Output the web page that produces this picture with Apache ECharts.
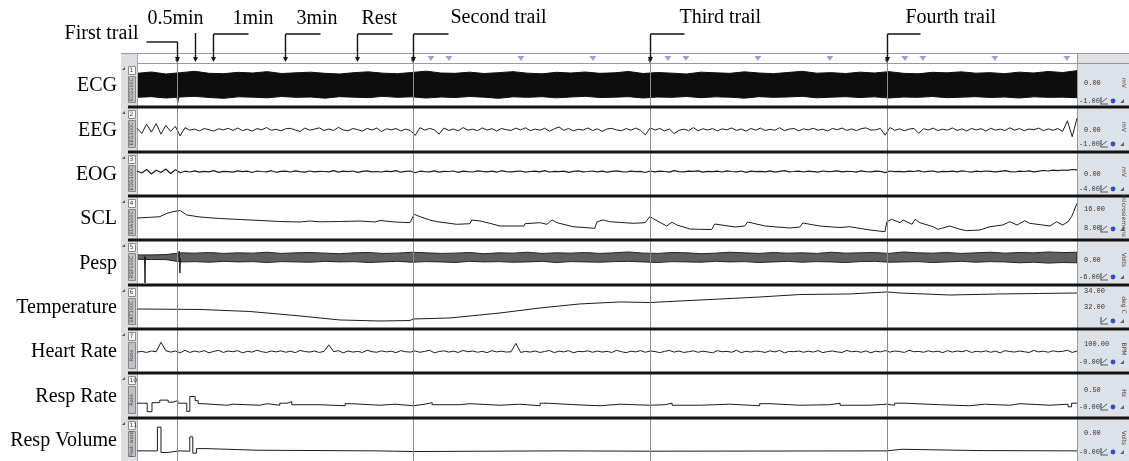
<!DOCTYPE html>
<html>
<head>
<meta charset="utf-8">
<script src="https://cdn.jsdelivr.net/npm/echarts@6/dist/echarts.min.js"></script>
<style>
  html, body { margin: 0; padding: 0; background: #fff; }
  #main { width: 1129px; height: 461px; }
</style>
</head>
<body>
<div id="main"></div>
<script>
// ---- Recording data (time in seconds) ----
const DURATION = 1567;

const channelNames   = ['ECG', 'EEG', 'EOG', 'SCL', 'Pesp', 'Temperature', 'Heart Rate', 'Resp Rate', 'Resp Volume'];
const channelNumbers = ['1', '2', '3', '4', '5', '6', '7', '10', '11'];
const moduleNames    = ['ECG100C', 'EEG100C', 'EOG100C', 'EDA100C', 'RSP100C', 'SKT100C', 'Rate', 'Rate', 'Peak ward'];
const unitNames      = ['mV', 'mV', 'mV', 'microsiemens', 'Volts', 'deg C', 'BPM', 'Hz', 'Volts'];
const scaleTopLabels    = ['0.00', '0.00', '0.00', '16.00', '0.00', '34.00', '100.00', '0.50', '0.00'];
const scaleBottomLabels = ['-1.00', '-1.00', '-4.00', '8.00', '-6.00', '32.00', '-0.00', '-0.00', '-0.00'];
const axisRanges = [[-1.2, 1.2], [-200, 200], [-200, 200], [3.8, 20.6], [-8, 6], [29.5, 34.5], [-40, 180], [0, 0.8], [-0.2, 1.0]];

// trial onsets and event offsets within a trial (s)
const trialStarts  = [67, 460, 855, 1250];
const trialLabels  = ['First trail', 'Second trail', 'Third trail', 'Fourth trail'];
const eventOffsets = [30, 60, 180, 300];
const eventLabels  = ['0.5min', '1min', '3min', 'Rest'];

// ECG envelope (mV), evenly spaced over the recording
const ecgUpper = [0.70,0.78,0.66,0.74,0.82,0.70,0.68,0.76,0.72,0.80,0.69,0.73,0.77,0.70,0.66,0.74,0.79,0.71,0.68,0.75,0.83,0.72,0.70,0.77,0.69,0.74,0.80,0.71,0.67,0.76,0.72,0.78,0.70,0.73,0.81,0.69,0.75,0.71,0.66,0.77,0.73,0.70,0.79,0.72,0.68,0.75,0.82,0.71,0.74,0.69,0.77,0.72,0.80,0.70,0.67,0.76,0.73,0.79,0.71,0.74,0.68,0.77,0.72,0.81,0.75,0.86];
const ecgLower = [-0.74,-0.70,-0.78,-0.72,-0.68,-0.75,-0.80,-0.71,-0.73,-0.77,-0.69,-0.74,-0.72,-0.79,-0.70,-0.73,-0.76,-0.68,-0.74,-0.71,-0.78,-0.72,-0.75,-0.69,-0.73,-0.80,-0.71,-0.74,-0.70,-0.77,-0.72,-0.68,-0.75,-0.73,-0.70,-0.78,-0.72,-0.74,-0.69,-0.76,-0.71,-0.73,-0.79,-0.70,-0.74,-0.72,-0.68,-0.77,-0.73,-0.70,-0.75,-0.71,-0.78,-0.72,-0.74,-0.69,-0.76,-0.73,-0.70,-0.75,-0.72,-0.78,-0.71,-0.74,-0.73,-0.76];
const ecgArtifact = [[66, -0.6], [68, -1.08], [70, -0.6]];

// EEG (µV), evenly spaced
const eeg = [
  12,-38,52,-25,58,-45,40,-18,30,-62,
  18,-6,4,-14,9,-2,-16,7,-4,11,
  -9,14,-11,3,-17,9,-3,19,-8,2,
  -13,7,11,-5,-19,14,-7,4,16,-10,
  5,-9,21,-4,-13,9,-1,-16,11,-5,
  14,-20,7,-3,9,-14,4,-11,-58,18,
  -7,11,-4,-44,14,-9,5,-13,19,-7,
  3,-12,16,-6,8,-15,10,-2,-9,13,
  -5,17,-11,4,-7,12,-16,6,25,-8,
  10,-13,3,-6,15,-10,7,-18,5,11,
  -4,-12,9,-7,14,-9,-52,16,-6,10,
  -14,5,-40,-8,3,-11,18,-12,7,-5,
  9,-13,6,-3,15,-9,4,-16,10,-6,
  13,-10,2,-8,17,-12,5,9,-14,6,
  -4,12,-7,3,-15,10,-2,14,-9,5,
  -11,8,16,-6,-3,10,-55,19,-8,6,
  -12,4,11,-38,7,-5,13,-10,3,-7,
  15,-9,6,-13,10,-4,8,-15,12,-6,
  4,-10,17,-7,9,-12,5,-3,14,-11,
  6,-8,10,-20,85,-70,110
];

// EOG (µV), evenly spaced
const eog = [
  30,10,45,0,38,15,50,5,42,12,
  28,20,32,18,26,22,34,16,27,24,
  19,31,23,28,15,30,25,21,33,17,
  26,29,20,32,24,18,30,22,27,25,
  21,33,19,28,24,30,16,27,31,22,
  25,20,29,23,34,18,26,30,12,28,
  24,21,32,19,27,25,30,17,28,23,
  20,31,26,22,29,18,33,24,21,27,
  30,19,25,28,22,34,20,26,23,29,
  17,27,31,21,25,30,22,28,19,26,
  32,23,20,29,24,27,15,30,22,28,
  25,19,33,24,21,28,26,31,18,27,
  23,29,20,32,25,22,30,17,28,24,
  26,21,31,19,27,34,22,25,29,20,
  28,24,18,30,23,26,32,21,27,25,
  19,31,24,22,29,26,14,30,23,27,
  21,28,25,33,20,26,30,18,27,24,
  29,22,32,25,19,28,23,30,26,21,
  27,33,24,20,29,25,31,22,28,35,
  30,38,33,40,36,45,42
];

// Skin conductance level (µS): [time, value]
const scl = [
  [0,12.2],[22,12.49],[38,12.75],[50,14.17],[60,14.85],[72,15.35],[75,14.72],[83,13.46],[105,12.62],
  [138,11.99],[172,11.57],[205,11.15],[238,10.73],[272,10.52],[288,10.94],[305,10.6],[338,10.73],
  [372,10.94],[397,10.52],[405,11.15],[430,10.52],[455,10.23],[462,13.75],[472,12.75],[488,11.36],
  [500,10.65],[533,9.56],[535,10.4],[555,9.81],[558,11.36],[572,10.94],[588,9.98],[605,8.84],
  [645,8.84],[647,9.81],[672,10.23],[683,9.56],[692,11.36],[700,10.23],[727,8.55],[763,7.87],
  [767,10.65],[777,11.36],[788,10.65],[827,9.97],[847,10.23],[855,12.83],[860,11.99],[883,8.84],
  [892,10.4],[900,9.26],[922,7.58],[938,7.45],[958,7.37],[963,9.68],[997,8.42],[1013,8.84],
  [1018,10.52],[1047,8.84],[1088,8.0],[1105,8.42],[1110,10.1],[1138,8.84],[1172,8.21],[1188,8.55],
  [1222,7.16],[1247,6.45],[1250,10.65],[1258,11.66],[1272,10.23],[1277,11.36],[1292,9.56],
  [1297,11.66],[1305,10.23],[1327,8.55],[1335,7.45],[1355,8.84],[1372,7.45],[1383,6.87],
  [1405,7.16],[1422,8.55],[1443,9.26],[1455,10.65],[1467,9.26],[1480,11.07],[1488,9.98],
  [1522,8.84],[1533,10.65],[1543,9.26],[1552,10.65],[1558,12.75],[1567,18.37]
];

// Respiration (V) envelope, evenly spaced
const pespUpper = [1.6,1.6,1.7,2.3,2.2,2.4,2.1,2.3,2.2,2.5,2.1,2.3,2.4,2.2,2.0,2.3,2.4,2.1,2.2,2.5,2.3,2.1,2.2,2.4,2.0,2.3,2.2,2.5,2.1,2.3,2.2,2.4,2.1,2.3,2.6,2.2,2.1,2.4,2.3,2.0,2.2,2.5,2.3,2.1,2.4,2.2,2.3,2.1,2.5,2.2,2.3,2.4,2.1,2.6,2.3,2.2,2.4,2.1,2.3,2.5,2.2,2.4,2.3,2.6,2.4,2.5];
const pespLower = [0.1,0.0,0.0,-0.8,-0.7,-0.9,-0.6,-0.8,-0.7,-1.0,-0.7,-0.8,-0.9,-0.6,-0.8,-0.7,-1.0,-0.8,-0.6,-0.9,-0.7,-0.8,-1.0,-0.6,-0.8,-0.7,-0.9,-0.8,-0.6,-1.0,-0.7,-0.8,-0.9,-0.7,-0.6,-0.8,-1.0,-0.7,-0.8,-0.9,-0.6,-0.8,-0.7,-1.0,-0.8,-0.6,-0.9,-0.7,-0.8,-1.0,-0.7,-0.6,-0.9,-0.8,-0.7,-1.0,-0.8,-0.6,-0.9,-0.7,-0.8,-1.1,-0.9,-1.2,-1.0,-1.1];
const pespArtifactA = [[12.5,1.0],[13.3,-8.0],[14.1,1.0]];
const pespArtifactB = [[69.5,1.0],[70.5,2.9],[71.5,-4.6],[72.5,0.5]];

// Skin temperature (deg C): [time, value]
const temperature = [
  [0,31.75],[105,31.69],[188,31.44],[272,30.88],[338,30.38],[405,30.25],[455,30.31],[460,30.5],
  [522,30.63],[605,31.25],[672,31.88],[738,32.38],[805,32.63],[855,32.56],[905,32.75],[972,33.0],
  [1038,33.25],[1105,33.56],[1188,33.63],[1250,33.88],[1272,33.75],[1355,33.5],[1438,33.63],
  [1505,33.69],[1567,33.75]
];

// Heart rate (BPM), evenly spaced
const heartRate = [
  64,68,62,70,66,118,72,64,70,60,
  74,62,70,64,72,60,68,74,62,70,
  66,72,60,68,64,74,66,62,70,65,
  71,63,69,61,73,67,64,70,62,68,
  104,66,72,60,70,64,68,62,74,66,
  63,71,65,69,61,72,66,64,70,63,
  68,74,60,67,71,64,69,62,73,66,
  70,63,68,61,72,65,69,64,66,112,
  62,68,64,70,62,67,73,61,69,65,
  72,60,68,66,71,63,70,64,68,62,
  74,66,61,69,65,72,63,70,67,61,
  68,73,64,70,62,66,71,63,69,65,
  60,72,66,68,63,74,61,69,64,70,
  67,62,71,65,73,60,68,66,70,63,
  69,64,72,61,67,70,65,62,73,66,
  68,63,71,60,69,65,72,64,70,67,
  62,74,66,68,63,71,65,69,61,72,
  64,70,66,73,62,68,65,71,63,69,
  60,72,67,64,70,66,62,73,65,69,
  63,71,66,68,74,62,70
];

// Respiration rate (Hz): [time, value held until next time]
const respRate = [
  [0,0.25],[17,0.085],[25,0.26],[38,0.31],[52,0.27],[60,0.30],[68,0.25],[83,0.09],[88,0.38],
  [97,0.30],[102,0.24],[110,0.21],[150,0.23],[160,0.21],[205,0.24],[217,0.21],[238,0.25],
  [250,0.28],[258,0.22],[305,0.20],[347,0.24],[358,0.21],[405,0.23],[430,0.20],[460,0.23],
  [480,0.26],[492,0.22],[538,0.24],[555,0.21],[605,0.23],[638,0.20],[672,0.25],[685,0.22],
  [730,0.20],[772,0.23],[805,0.21],[855,0.22],[880,0.25],[892,0.21],[938,0.23],[988,0.20],
  [1038,0.24],[1055,0.21],[1105,0.22],[1155,0.25],[1172,0.21],[1222,0.23],[1250,0.21],
  [1263,0.25],[1280,0.22],[1338,0.20],[1388,0.23],[1413,0.21],[1455,0.24],[1472,0.21],
  [1522,0.23],[1552,0.18],[1558,0.25],[1567,0.25]
];

// Respiration volume (V): [time, value held until next time]
const respVolume = [
  [0,0.05],[34,0.78],[40,0.00],[50,0.05],[70,0.04],[88,0.48],[93,-0.02],[99,0.12],[115,0.07],
  [200,0.05],[400,0.03],[460,0.05],[700,0.04],[855,0.05],[1250,0.10],[1275,0.06],[1400,0.05],[1567,0.05]
];

// ---- Layout ----
const W = 1129, H = 461;
const PLOT_L = 137, PLOT_R = 1077;
const rowTops = [63, 107, 152, 196, 240, 285, 329, 373, 418];
const rowBottom = i => (i < rowTops.length - 1 ? rowTops[i + 1] : H);
// vertical offsets of the scale readouts inside each row: [top label, bottom label, icons]
const readoutOffsets = [[20,38,38],[23,37,37],[22,37,37],[13,32,33],[20,37,37],[6,22,36],[15,33,33],[17,34,34],[15,34,34]];

const TRACE = '#1c1c1c';
const SERIF = '"Liberation Serif", "Times New Roman", serif';
const LABEL_FONT = '20px ' + SERIF;

function evenlySpaced(values) {
  const step = DURATION / (values.length - 1);
  return values.map((v, i) => [i * step, v]);
}

const grids = [], xAxes = [], yAxes = [], series = [];
rowTops.forEach((top, i) => {
  grids.push({ left: PLOT_L, right: W - PLOT_R, top: top + 2, height: rowBottom(i) - top - 4 });
  xAxes.push({ type: 'value', gridIndex: i, min: 0, max: DURATION, show: false });
  yAxes.push({ type: 'value', gridIndex: i, min: axisRanges[i][0], max: axisRanges[i][1], show: false });
});
// event marker bar
grids.push({ left: PLOT_L, right: W - PLOT_R, top: 54, height: 9 });
xAxes.push({ type: 'value', gridIndex: 9, min: 0, max: DURATION, show: false });
yAxes.push({ type: 'value', gridIndex: 9, min: 0, max: 1, show: false });

function line(idx, data, extra) {
  return Object.assign({
    type: 'line', xAxisIndex: idx, yAxisIndex: idx, data: data,
    symbol: 'none', silent: true, animation: false,
    lineStyle: { color: TRACE, width: 1 }
  }, extra || {});
}

// min/max envelope of a dense trace, filled between its lower and upper edges
function band(idx, lower, upper, fill, edge) {
  const step = DURATION / (lower.length - 1);
  const rows = lower.map((lo, i) => [i * step, lo, upper[i]]);
  return {
    type: 'custom', xAxisIndex: idx, yAxisIndex: idx, silent: true, animation: false, clip: true,
    data: rows, encode: { x: 0, y: [1, 2] },
    renderItem: function (params, api) {
      if (params.dataIndex !== 0) return null;
      const top = rows.map(r => api.coord([r[0], r[2]]));
      const bottom = rows.slice().reverse().map(r => api.coord([r[0], r[1]]));
      return { type: 'polygon', shape: { points: top.concat(bottom) },
        style: { fill: fill, stroke: edge, lineWidth: 1 } };
    }
  };
}

series.push(band(0, ecgLower, ecgUpper, '#0d0d0d', '#0d0d0d'));
series.push(line(0, ecgArtifact));
series.push(line(1, evenlySpaced(eeg)));
series.push(line(2, evenlySpaced(eog), { lineStyle: { color: TRACE, width: 1.2 } }));
series.push(line(3, scl));
series.push(band(4, pespLower, pespUpper, '#5f5f5f', '#222222'));
series.push(line(4, pespArtifactA));
series.push(line(4, pespArtifactB));
series.push(line(5, temperature));
series.push(line(6, evenlySpaced(heartRate)));
series.push(line(7, respRate, { step: 'end' }));
series.push(line(8, respVolume, { step: 'end' }));

// marker bar: trial onset ticks and event triangles for the later trials
series.push({
  type: 'scatter', xAxisIndex: 9, yAxisIndex: 9, silent: true, animation: false,
  data: trialStarts.map(t => [t, 0.35]), symbol: 'diamond', symbolSize: [4, 7],
  itemStyle: { color: '#3a3a3a' }
});
const laterEvents = [];
trialStarts.slice(1).forEach(t => eventOffsets.forEach(o => laterEvents.push([t + o, 0.5])));
series.push({
  type: 'scatter', xAxisIndex: 9, yAxisIndex: 9, silent: true, animation: false,
  data: laterEvents, symbol: 'triangle', symbolRotate: 180, symbolSize: [7, 5],
  itemStyle: { color: '#8486d2' }
});

const chart = echarts.init(document.getElementById('main'), null, { renderer: 'canvas', width: W, height: H });
chart.setOption({ animation: false, backgroundColor: '#ffffff', grid: grids, xAxis: xAxes, yAxis: yAxes, series: series });

// ---- Frame, panels and annotations placed from the time axis ----
const px = t => chart.convertToPixel({ xAxisIndex: 9 }, t);
const g = [];

// left channel strip and right scale panel
g.push({ type: 'rect', z: 1, shape: { x: 121, y: 53, width: PLOT_L - 121, height: H - 53 }, style: { fill: '#dcdfe2' } });
g.push({ type: 'rect', z: 1, shape: { x: PLOT_R, y: 53, width: W - PLOT_R, height: H - 53 }, style: { fill: '#dde2e6' } });
g.push({ type: 'line', z: 3, shape: { x1: 121, y1: 53.5, x2: W, y2: 53.5 }, style: { stroke: '#9a9a9a', lineWidth: 1 } });
g.push({ type: 'line', z: 3, shape: { x1: PLOT_L, y1: 63.5, x2: W, y2: 63.5 }, style: { stroke: '#9a9a9a', lineWidth: 1 } });
g.push({ type: 'line', z: 3, shape: { x1: PLOT_L + 0.5, y1: 53, x2: PLOT_L + 0.5, y2: H }, style: { stroke: '#a8a8a8', lineWidth: 1 } });
g.push({ type: 'line', z: 3, shape: { x1: PLOT_R + 0.5, y1: 53, x2: PLOT_R + 0.5, y2: H }, style: { stroke: '#9a9a9a', lineWidth: 1 } });

// trial onset lines through every channel
trialStarts.forEach(t => {
  const x = Math.round(px(t)) + 0.5;
  g.push({ type: 'line', z: 55, shape: { x1: x, y1: 54, x2: x, y2: H }, style: { stroke: '#8c8c8c', lineWidth: 1 } });
});

// thick row separators
rowTops.slice(1).forEach(y => {
  g.push({ type: 'rect', z: 60, shape: { x: 128, y: y - 1.5, width: W - 128, height: 3 }, style: { fill: '#141414' } });
});

rowTops.forEach((top, i) => {
  const bottom = rowBottom(i);
  const mid = (top + bottom) / 2;
  // channel name
  g.push({ type: 'text', z: 70, style: { text: channelNames[i], x: 117, y: mid + 1, align: 'right', verticalAlign: 'middle',
    font: LABEL_FONT, fill: '#000' } });
  // small handle mark
  g.push({ type: 'polygon', z: 70, shape: { points: [[122, top + 7], [125, top + 4], [125, top + 7]] }, style: { fill: '#555' } });
  // channel number box
  g.push({ type: 'rect', z: 70, shape: { x: 128.5, y: top + 3.5, width: 7, height: 8 }, style: { fill: '#fff', stroke: '#8a8a8a', lineWidth: 1 } });
  g.push({ type: 'text', z: 71, style: { text: channelNumbers[i], x: 129.5, y: top + 7.5, align: 'left', verticalAlign: 'middle',
    font: '6px "DejaVu Sans"', fill: '#333' } });
  // module label box
  g.push({ type: 'rect', z: 70, shape: { x: 128.5, y: top + 13.5, width: 7, height: bottom - top - 18 }, style: { fill: '#bfc2c5', stroke: '#888', lineWidth: 1 } });
  g.push({ type: 'text', z: 71, x: 132, y: (top + 13 + bottom - 4) / 2, rotation: Math.PI / 2,
    style: { text: moduleNames[i], align: 'center', verticalAlign: 'middle', font: '5px "DejaVu Sans"', fill: '#444' } });

  // scale readouts
  const off = readoutOffsets[i];
  g.push({ type: 'text', z: 70, style: { text: scaleTopLabels[i], x: 1084, y: top + off[0], align: 'left', verticalAlign: 'middle',
    font: '7px "Liberation Mono"', fill: '#333' } });
  const bl = scaleBottomLabels[i];
  g.push({ type: 'text', z: 70, style: { text: bl, x: bl.charAt(0) === '-' ? 1079 : 1084, y: top + off[1], align: 'left', verticalAlign: 'middle',
    font: '7px "Liberation Mono"', fill: '#333' } });
  const iy = top + off[2];
  g.push({ type: 'polyline', z: 70, shape: { points: [[1101, iy - 4], [1101, iy + 3], [1108, iy + 3]] }, style: { stroke: '#4a5a70', lineWidth: 1.2, fill: null } });
  g.push({ type: 'line', z: 70, shape: { x1: 1102, y1: iy + 1, x2: 1107, y2: iy - 3 }, style: { stroke: '#4a5a70', lineWidth: 1 } });
  g.push({ type: 'circle', z: 70, shape: { cx: 1113, cy: iy, r: 2.4 }, style: { fill: '#2f4fd0' } });
  g.push({ type: 'polygon', z: 70, shape: { points: [[1120, iy + 2], [1124, iy - 2], [1124, iy + 2]] }, style: { fill: '#666' } });
  // unit
  g.push({ type: 'text', z: 70, x: 1124, y: top + 20, rotation: -Math.PI / 2,
    style: { text: unitNames[i], align: 'center', verticalAlign: 'middle', font: '6px "DejaVu Sans"', fill: '#444' } });
});

// annotations above the marker bar
function vArrow(x, y1, tip) {
  g.push({ type: 'line', z: 80, shape: { x1: x, y1: y1, x2: x, y2: tip - 4 }, style: { stroke: '#111', lineWidth: 1.4 } });
  g.push({ type: 'polygon', z: 80, shape: { points: [[x - 2.5, tip - 5], [x + 2.5, tip - 5], [x, tip]] }, style: { fill: '#111' } });
}
function hLine(x1, x2, y) {
  g.push({ type: 'line', z: 80, shape: { x1: x1, y1: y, x2: x2, y2: y }, style: { stroke: '#111', lineWidth: 1.4 } });
}
function label(text, x, y, align) {
  g.push({ type: 'text', z: 80, style: { text: text, x: x, y: y, align: align, verticalAlign: 'middle', font: LABEL_FONT, fill: '#000' } });
}
const TIP = 62;
// trial labels: [bracket length, text dx, text y, bracket y]
const trialLayout = [[-31, -39, 34, 42], [35, 37, 18, 34], [34, 29, 18, 34], [33, 18, 18, 34]];
trialStarts.forEach((t, k) => {
  const x = Math.round(px(t)) + 0.5;
  const L = trialLayout[k];
  hLine(x, x + L[0], L[3]);
  vArrow(x, L[3], TIP);
  label(trialLabels[k], x + L[1], L[2], k === 0 ? 'right' : 'left');
});
// first-trial event arrows: [has bracket, text dx, align]
const eventLayout = [[false, -20, 'center'], [true, 19, 'left'], [true, 11, 'left'], [true, 4, 'left']];
eventOffsets.forEach((o, j) => {
  const x = Math.round(px(trialStarts[0] + o)) + 0.5;
  const L = eventLayout[j];
  if (L[0]) hLine(x, x + 35, 34);
  vArrow(x, L[0] ? 34 : 33, TIP);
  label(eventLabels[j], x + L[1], 19, L[2]);
});

chart.setOption({ graphic: { elements: g } });
</script>
</body>
</html>
